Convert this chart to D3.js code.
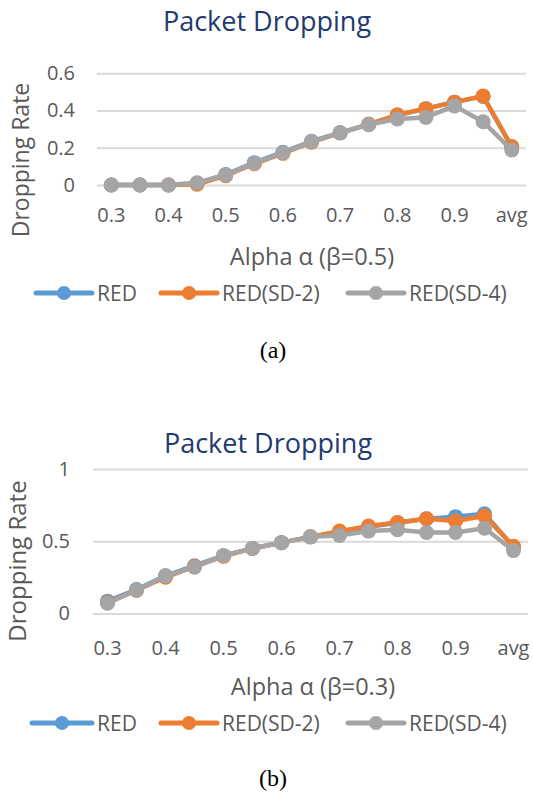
<!DOCTYPE html>
<html>
<head>
<meta charset="utf-8">
<script src="https://cdn.jsdelivr.net/npm/d3@7"></script>
<style>
body { margin: 0; background: #fff; }
svg text { font-family: "Open Sans", sans-serif; }
</style>
</head>
<body>
<svg id="fig" width="533" height="794"></svg>
<script>
// categories on the x axis (alpha values + average)
var categories = ["0.3", "0.35", "0.4", "0.45", "0.5", "0.55", "0.6", "0.65", "0.7", "0.75", "0.8", "0.85", "0.9", "0.95", "avg"];
var xTickLabels = ["0.3", "0.4", "0.5", "0.6", "0.7", "0.8", "0.9", "avg"];
var seriesNames = ["RED", "RED(SD-2)", "RED(SD-4)"];

// panel (a), beta = 0.5
var redA = [0, 0, 0, 0.01, 0.056, 0.12, 0.176, 0.235, 0.28, 0.326, 0.375, 0.41, 0.445, 0.476, 0.205];
var sd2A = [0, 0, 0, 0.004, 0.05, 0.114, 0.17, 0.23, 0.28, 0.326, 0.377, 0.41, 0.445, 0.478, 0.207];
var sd4A = [0, 0, 0, 0.012, 0.054, 0.117, 0.174, 0.233, 0.28, 0.324, 0.355, 0.363, 0.425, 0.34, 0.188];
var yTicksA = [0, 0.2, 0.4, 0.6];

// panel (b), beta = 0.3
var redB = [0.085, 0.165, 0.26, 0.33, 0.4, 0.45, 0.49, 0.53, 0.565, 0.6, 0.628, 0.655, 0.67, 0.69, 0.46];
var sd2B = [0.075, 0.16, 0.25, 0.325, 0.395, 0.45, 0.49, 0.53, 0.57, 0.605, 0.63, 0.655, 0.64, 0.675, 0.465];
var sd4B = [0.07, 0.16, 0.26, 0.32, 0.4, 0.45, 0.49, 0.53, 0.54, 0.57, 0.58, 0.56, 0.56, 0.59, 0.435];
var yTicksB = [0, 0.5, 1];

var colors = ["#5b9bd5", "#ed7d31", "#a5a5a5"];

var svg = d3.select("#fig");

function drawPanel(o) {
	var g = svg.append("g");

	var x = d3.scaleBand().domain(categories).range([o.left, o.right]);
	var y = d3.scaleLinear().domain(o.yDomain).range([o.bottom, o.top]);

	// gridlines + y tick labels
	var yAxis = g.append("g")
		.attr("transform", "translate(" + o.left + ",0)")
		.call(d3.axisLeft(y).tickValues(o.yTicks).tickSize(-(o.right - o.left)).tickPadding(o.left - o.yLabelX).tickFormat(d3.format("~g")));
	yAxis.select(".domain").remove();
	yAxis.selectAll(".tick line").attr("stroke", "#d9d9d9").attr("stroke-width", 2);
	yAxis.selectAll(".tick text").attr("fill", "#595959").attr("font-size", 20).attr("font-family", "Open Sans");

	// x tick labels
	var xAxis = g.append("g")
		.attr("transform", "translate(0," + o.bottom + ")")
		.call(d3.axisBottom(x).tickValues(xTickLabels).tickSize(0).tickPadding(0));
	xAxis.select(".domain").remove();
	xAxis.selectAll(".tick text")
		.attr("fill", "#595959").attr("font-size", 20).attr("font-family", "Open Sans")
		.attr("dy", null).attr("y", o.xLabelY - o.bottom);

	var line = d3.line()
		.x(function(d, i) { return x(categories[i]) + x.bandwidth() / 2; })
		.y(function(d) { return y(d); });

	o.series.forEach(function(s, k) {
		g.append("path")
			.attr("d", line(s))
			.attr("fill", "none")
			.attr("stroke", colors[k])
			.attr("stroke-width", 4.5)
			.attr("stroke-linejoin", "round");
		g.selectAll(null).data(s).enter().append("circle")
			.attr("cx", function(d, i) { return x(categories[i]) + x.bandwidth() / 2; })
			.attr("cy", function(d) { return y(d); })
			.attr("r", 7.5)
			.attr("fill", colors[k]);
	});

	// titles
	g.append("text").attr("x", o.titleX).attr("y", o.titleY)
		.attr("text-anchor", "middle").attr("font-size", 27).attr("fill", "#1f3a70")
		.text("Packet Dropping");
	g.append("text").attr("x", o.xTitleX).attr("y", o.xTitleY)
		.attr("text-anchor", "middle").attr("font-size", 23.5).attr("fill", "#595959")
		.text(o.xTitle);
	g.append("text")
		.attr("transform", "translate(" + o.yTitleX + "," + o.yTitleY + ") rotate(-90)")
		.attr("text-anchor", "middle").attr("font-size", o.yTitleSize).attr("fill", "#595959")
		.text("Dropping Rate");

	// legend
	var legX = [[o.legStart, 92, 97], [161, 217, 222], [348, 404, 409]];
	seriesNames.forEach(function(name, k) {
		var lg = g.append("g");
		lg.append("line")
			.attr("x1", legX[k][0]).attr("x2", legX[k][1])
			.attr("y1", o.legY).attr("y2", o.legY)
			.attr("stroke", colors[k]).attr("stroke-width", 5).attr("stroke-linecap", "round");
		lg.append("circle")
			.attr("cx", (legX[k][0] + legX[k][1]) / 2).attr("cy", o.legY).attr("r", 7)
			.attr("fill", colors[k]);
		lg.append("text")
			.attr("x", legX[k][2]).attr("y", o.legY + 7.5)
			.attr("font-size", 21).attr("fill", "#595959")
			.text(name);
	});

	// caption
	g.append("text").attr("x", 273).attr("y", o.capY)
		.attr("text-anchor", "middle").attr("font-size", 24)
		.style("font-family", "'Liberation Serif', serif")
		.attr("fill", "#000").text(o.caption);
}

drawPanel({
	series: [redA, sd2A, sd4A], yDomain: [0, 0.6], yTicks: yTicksA,
	left: 97, right: 526, top: 73.3, bottom: 185, yLabelX: 75,
	xLabelY: 222, titleX: 267, titleY: 31,
	xTitle: "Alpha \u03b1 (\u03b2=0.5)", xTitleX: 312, xTitleY: 265,
	yTitleX: 29, yTitleY: 160, yTitleSize: 23,
	legY: 293, legStart: 36, capY: 358, caption: "(a)"
});

drawPanel({
	series: [redB, sd2B, sd4B], yDomain: [0, 1], yTicks: yTicksB,
	left: 93, right: 528, top: 469, bottom: 613.4, yLabelX: 70,
	xLabelY: 655, titleX: 268, titleY: 453,
	xTitle: "Alpha \u03b1 (\u03b2=0.3)", xTitleX: 313, xTitleY: 695,
	yTitleX: 26, yTitleY: 561, yTitleSize: 24,
	legY: 723, legStart: 32, capY: 786, caption: "(b)"
});
</script>
</body>
</html>
